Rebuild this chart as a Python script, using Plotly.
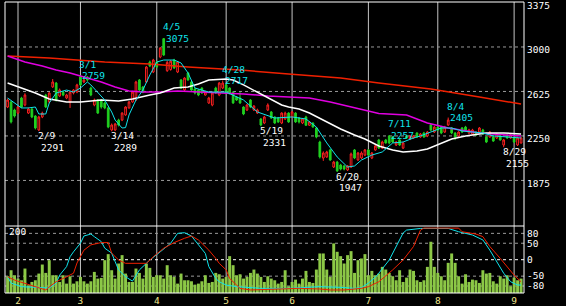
import pandas as pd
import plotly.graph_objects as go

# ---------------- data ----------------
holidays = ['2022-02-11', '2022-02-23', '2022-03-21', '2022-04-29', '2022-05-03',
            '2022-05-04', '2022-05-05', '2022-07-18', '2022-08-11']
dates = pd.bdate_range('2022-01-27', '2022-09-05', freq='C', holidays=holidays)

opens = [2494, 2536, 2469, 2443, 2570, 2511, 2443, 2477, 2418, 2300,
         2410, 2595, 2536, 2663, 2696, 2587, 2620, 2570, 2536, 2612,
         2620, 2747, 2705, 2747, 2654, 2511, 2553, 2553, 2528, 2486,
         2300, 2300, 2384, 2384, 2427, 2486, 2536, 2553, 2722, 2663,
         2705, 2873, 2789, 2873, 2915, 3070, 2800, 2810, 2890, 2789,
         2722, 2637, 2781, 2705, 2646, 2637, 2654, 2595, 2528, 2511,
         2654, 2595, 2654, 2680, 2654, 2620, 2578, 2570, 2494, 2469,
         2553, 2469, 2443, 2393, 2359, 2469, 2452, 2410, 2401, 2359,
         2393, 2443, 2410, 2443, 2401, 2359, 2410, 2340, 2359, 2317,
         2199, 2064, 2073, 2132, 1988, 2030, 2005, 1997, 1963, 1988,
         2132, 2047, 2064, 2089, 2132, 2064, 2132, 2216, 2148, 2216,
         2250, 2241, 2174, 2216, 2148, 2250, 2224, 2233, 2275, 2241,
         2275, 2250, 2342, 2283, 2325, 2325, 2283, 2342, 2317, 2275,
         2250, 2317, 2325, 2275, 2266, 2283, 2283, 2300, 2241, 2241,
         2241, 2233, 2250, 2174, 2258, 2233, 2233, 2174, 2191]
highs = [2565, 2545, 2480, 2505, 2580, 2610, 2490, 2485, 2425, 2420,
         2455, 2605, 2620, 2730, 2705, 2650, 2630, 2605, 2630, 2645,
         2690, 2759, 2735, 2755, 2665, 2565, 2560, 2560, 2540, 2495,
         2355, 2360, 2395, 2450, 2500, 2545, 2630, 2715, 2730, 2670,
         2840, 2885, 2900, 2880, 3000, 3075, 2885, 2890, 2900, 2880,
         2730, 2745, 2790, 2715, 2655, 2645, 2660, 2630, 2580, 2625,
         2665, 2705, 2717, 2690, 2660, 2625, 2585, 2620, 2500, 2520,
         2560, 2510, 2480, 2400, 2420, 2525, 2460, 2415, 2410, 2450,
         2455, 2450, 2460, 2450, 2410, 2400, 2420, 2375, 2365, 2325,
         2210, 2120, 2125, 2140, 2040, 2040, 2015, 2005, 2005, 2110,
         2140, 2115, 2120, 2140, 2140, 2115, 2175, 2225, 2210, 2225,
         2257, 2250, 2205, 2225, 2200, 2255, 2255, 2255, 2280, 2275,
         2285, 2290, 2350, 2335, 2335, 2335, 2335, 2405, 2325, 2280,
         2290, 2325, 2335, 2310, 2310, 2290, 2325, 2310, 2250, 2290,
         2250, 2275, 2260, 2225, 2265, 2265, 2240, 2240, 2240]
lows = [2485, 2355, 2405, 2435, 2485, 2500, 2435, 2400, 2305, 2291,
        2400, 2485, 2525, 2655, 2540, 2580, 2585, 2560, 2486, 2600,
        2610, 2670, 2695, 2710, 2585, 2500, 2435, 2480, 2475, 2315,
        2289, 2292, 2330, 2375, 2420, 2480, 2530, 2545, 2625, 2610,
        2695, 2830, 2780, 2820, 2905, 2925, 2790, 2800, 2815, 2780,
        2645, 2625, 2715, 2630, 2600, 2585, 2605, 2590, 2520, 2500,
        2605, 2585, 2645, 2600, 2600, 2520, 2545, 2520, 2425, 2460,
        2485, 2460, 2435, 2331, 2350, 2460, 2395, 2350, 2360, 2350,
        2385, 2360, 2400, 2360, 2355, 2350, 2335, 2335, 2320, 2230,
        2060, 2040, 2065, 2040, 1980, 1947, 1960, 1960, 1955, 1980,
        2055, 2040, 2055, 2080, 2080, 2055, 2125, 2140, 2140, 2185,
        2180, 2190, 2165, 2165, 2140, 2225, 2215, 2225, 2235, 2235,
        2235, 2240, 2290, 2275, 2290, 2265, 2275, 2335, 2265, 2215,
        2240, 2275, 2290, 2265, 2260, 2250, 2275, 2260, 2190, 2235,
        2200, 2225, 2210, 2155, 2225, 2225, 2190, 2165, 2185]
closes = [2553, 2368, 2418, 2494, 2494, 2595, 2477, 2410, 2317, 2410,
          2443, 2494, 2612, 2705, 2553, 2637, 2595, 2595, 2620, 2637,
          2680, 2680, 2722, 2722, 2595, 2553, 2443, 2494, 2486, 2325,
          2342, 2351, 2342, 2443, 2494, 2536, 2620, 2705, 2637, 2620,
          2831, 2840, 2890, 2831, 2991, 2932, 2870, 2880, 2823, 2873,
          2654, 2738, 2722, 2637, 2612, 2595, 2612, 2620, 2570, 2612,
          2612, 2696, 2696, 2612, 2612, 2528, 2553, 2528, 2435, 2511,
          2494, 2502, 2469, 2342, 2410, 2511, 2401, 2359, 2368, 2443,
          2443, 2368, 2452, 2368, 2368, 2393, 2340, 2368, 2325, 2241,
          2073, 2106, 2115, 2047, 2030, 1955, 1971, 1971, 1997, 2098,
          2064, 2106, 2106, 2132, 2089, 2106, 2165, 2148, 2199, 2191,
          2191, 2199, 2199, 2174, 2191, 2233, 2250, 2250, 2241, 2266,
          2241, 2283, 2300, 2325, 2300, 2275, 2325, 2384, 2275, 2241,
          2283, 2283, 2300, 2300, 2300, 2258, 2317, 2266, 2199, 2283,
          2207, 2266, 2216, 2216, 2233, 2258, 2199, 2233, 2233]
volume = [50, 68, 53, 43, 38, 73, 23, 33, 38, 58, 85, 60, 98, 53, 53, 33, 53, 28, 50, 28,
          35, 48, 35, 28, 35, 63, 43, 45, 98, 116, 68, 43, 88, 113, 58, 33, 33, 73, 60, 43,
          88, 75, 48, 53, 53, 43, 83, 53, 48, 28, 58, 38, 38,
          35, 25, 28, 35, 53, 30, 33, 60, 56, 43, 48, 110, 83, 53, 56, 43, 48, 60, 70, 58,
          48, 33, 50, 43, 38, 28, 33, 68, 20, 33, 40, 28, 43, 66, 33, 30, 70, 118, 118, 70,
          48, 148, 123, 110, 88, 113, 125, 60, 98, 103, 116, 53, 66, 53, 58,
          78, 70, 60, 50, 38, 68, 33, 46, 70, 66, 38, 33, 38, 78, 153, 78, 60, 50, 38, 90,
          118, 90, 50, 28, 56, 33, 40, 38, 30, 68, 58, 60, 35, 28, 50, 43, 53, 20, 46, 38, 43]

# moving averages (day number, price)
ma_short_day = [0, 4, 6, 8, 9, 11, 12, 14, 17, 19, 21, 23, 24, 27, 28, 30, 31, 33, 34, 35,
                37, 39, 41, 43, 45, 48, 50, 51, 52, 54, 58, 63, 68, 72, 77, 82, 86, 89, 92,
                95, 98, 100, 102, 105, 108, 111, 114, 117, 119, 122, 125, 128, 131, 134,
                137, 140, 144, 148]
ma_short_val = [2570, 2486, 2486, 2494, 2435, 2435, 2528, 2612, 2637, 2620, 2654, 2705, 2680,
                2590, 2553, 2452, 2384, 2317, 2320, 2427, 2553, 2637, 2764, 2873, 2890, 2890,
                2865, 2823, 2781, 2654, 2620, 2620, 2553, 2452, 2401, 2410, 2393, 2325, 2191,
                2073, 1988, 1997, 2047, 2089, 2115, 2191, 2199, 2233, 2250, 2283, 2317, 2317,
                2292, 2283, 2275, 2250, 2241, 2233]
ma_mid_day = [0, 4, 8, 12, 17, 21, 27, 32, 36, 41, 44, 48, 52, 55, 58, 63, 65, 68, 72, 76,
              79, 81, 84, 87, 91, 96, 100, 103, 107, 111, 114, 118, 121, 124, 128, 132,
              138, 143, 148]
ma_mid_val = [2696, 2654, 2612, 2562, 2536, 2536, 2553, 2545, 2561, 2595, 2612, 2654, 2663,
              2688, 2722, 2730, 2722, 2680, 2620, 2553, 2511, 2494, 2477, 2443, 2384, 2309,
              2258, 2224, 2165, 2132, 2115, 2123, 2140, 2174, 2224, 2250, 2275, 2275, 2266]
ma_long_day = [0, 5, 10, 14, 18, 22, 27, 31, 35, 39, 44, 49, 58, 68, 75, 87, 93, 100, 107,
               115, 121, 127, 136, 148]
ma_long_val = [2924, 2873, 2840, 2806, 2781, 2747, 2705, 2663, 2629, 2620, 2620, 2629, 2620,
               2604, 2587, 2570, 2536, 2485, 2440, 2427, 2359, 2317, 2275, 2250]
ma_trend_day = [0, 12, 28, 41, 52, 67, 81, 96, 107, 122, 136, 148]
ma_trend_val = [2924, 2907, 2873, 2856, 2831, 2806, 2772, 2738, 2696, 2646, 2578, 2519]

# oscillator (day number, value)
osc_fast_day = [0, 1, 4, 6, 9, 12, 14, 15, 17, 18, 19, 21, 22, 24, 25, 27, 28, 30, 31, 32,
                34, 36, 38, 41, 44, 47, 49, 51, 53, 55, 57, 58, 60, 61, 63, 66, 68, 73, 81,
                87, 90, 96, 99, 100, 102, 104, 106, 107, 110, 112, 114, 115, 119, 127, 130,
                134, 137, 139, 141, 143, 145, 147, 148]
osc_fast_val = [-52, -71, -82, -83, -86, -86, -71, -47, -21, 9, 24, 50, 72, 78, 70, 55, 35,
                20, -6, -31, -52, -65, -31, -1, 24, 50, 80, 82, 72, 45, 19, -21, -57, -67,
                -77, -82, -83, -87, -87, -85, -82, -84, -87, -87, -85, -71, -53, -41, -1, 40,
                81, 90, 95, 95, 85, 75, 60, 29, -6, -41, -67, -77, -77]
osc_slow_day = [0, 2, 5, 8, 11, 12, 14, 17, 19, 20, 22, 24, 27, 29, 30, 32, 34, 40, 42, 45,
                48, 51, 53, 55, 58, 60, 61, 63, 64, 66, 67, 70, 76, 84, 90, 93, 97, 102, 104,
                107, 111, 114, 117, 119, 120, 130, 131, 135, 137, 139, 142, 144, 146, 148]
osc_slow_val = [-52, -62, -72, -82, -92, -83, -67, -52, -41, -10, 29, 45, 52, 52, 20, -1,
                -11, -11, 9, 35, 52, 65, 72, 60, 29, 4, -11, -31, -57, -77, -87, -92, -90,
                -87, -89, -92, -92, -87, -82, -67, -31, -1, 40, 90, 96, 96, 85, 78, 70, 40, 4,
                -21, -47, -67]

high_labels = ['2022-03-01', '2022-04-05', '2022-04-28', '2022-07-11', '2022-08-04']
low_labels = ['2022-02-09', '2022-03-14', '2022-05-19', '2022-06-20', '2022-08-29']

price_ticks = [1875, 2250, 2625, 3000, 3375]
osc_ticks = [-80, -50, 0, 50, 80]
volume_max = 200

# ---------------- styling ----------------
FONT = 'DejaVu Sans Mono'
FS = 9.5
C_UP = '#ff2020'
C_DN = '#20d020'
C_CYAN = '#10e4ec'
C_WHITE = '#ffffff'
C_MAG = '#e000e0'
C_RED = '#f02000'
C_VOL = '#8cc846'
C_GRID = '#9a9a9a'
C_MONTH = '#c4c4c4'
C_XLAB = '#f0e68c'

n = len(dates)
idx = list(range(n))
month_idx = [i for i in range(1, n) if dates[i].month != dates[i - 1].month]
month_txt = [str(dates[i].month) for i in month_idx]
day_of = {d.strftime('%Y-%m-%d'): i for i, d in enumerate(dates)}

split = 67 / 291
xr = [-0.75, n - 0.15]

fig = go.Figure()
fig.add_trace(go.Candlestick(
    x=idx, open=opens, high=highs, low=lows, close=closes,
    increasing=dict(line=dict(color=C_UP, width=1), fillcolor='#000000'),
    decreasing=dict(line=dict(color=C_DN, width=1), fillcolor=C_DN),
    whiskerwidth=0, xaxis='x', yaxis='y', hoverinfo='skip', showlegend=False))
for dd, vv, col, w in [(ma_trend_day, ma_trend_val, C_RED, 1.5),
                       (ma_long_day, ma_long_val, C_MAG, 1.5),
                       (ma_mid_day, ma_mid_val, C_WHITE, 1.5),
                       (ma_short_day, ma_short_val, C_CYAN, 1)]:
    fig.add_trace(go.Scatter(x=dd, y=vv, mode='lines', line=dict(color=col, width=w),
                             xaxis='x', yaxis='y', hoverinfo='skip', showlegend=False))

fig.add_trace(go.Bar(x=idx, y=volume, marker=dict(color=C_VOL, line=dict(width=0)),
                     xaxis='x2', yaxis='y2', hoverinfo='skip', showlegend=False))
fig.add_trace(go.Scatter(x=osc_fast_day, y=osc_fast_val, mode='lines',
                         line=dict(color=C_CYAN, width=1), xaxis='x2', yaxis='y3',
                         hoverinfo='skip', showlegend=False))
fig.add_trace(go.Scatter(x=osc_slow_day, y=osc_slow_val, mode='lines',
                         line=dict(color=C_RED, width=1), xaxis='x2', yaxis='y3',
                         hoverinfo='skip', showlegend=False))

shapes = []
for m in month_idx:
    shapes.append(dict(type='line', xref='x', yref='paper', x0=m, x1=m, y0=0, y1=1,
                       line=dict(color=C_MONTH, width=1), layer='below'))
for v in price_ticks[:-1]:
    shapes.append(dict(type='line', xref='paper', yref='y', x0=0, x1=1, y0=v, y1=v,
                       line=dict(color=C_GRID, width=1, dash='3px,3px'), layer='below'))
for v in osc_ticks:
    shapes.append(dict(type='line', xref='paper', yref='y3', x0=0, x1=1, y0=v, y1=v,
                       line=dict(color=C_WHITE if v == 0 else C_GRID, width=1,
                                 dash='3px,3px'), layer='below'))
for (x0, y0, x1, y1) in [(0, 1, 1, 1), (0, split, 1, split), (0, 0, 1, 0),
                         (0, 0, 0, 1), (1, 0, 1, 1)]:
    shapes.append(dict(type='line', xref='paper', yref='paper', x0=x0, x1=x1, y0=y0, y1=y1,
                       line=dict(color=C_WHITE, width=1), layer='above'))

ann = []
def add_text(i, price, txt, col, anchor, xs, ys):
    ann.append(dict(x=i, y=price, xref='x', yref='y', text=txt, showarrow=False,
                    xanchor='left', yanchor=anchor, xshift=xs, yshift=ys,
                    font=dict(family=FONT, size=FS, color=col), borderpad=0, borderwidth=0))

for s in high_labels:
    i = day_of[s]
    d = dates[i]
    add_text(i, highs[i], f"{d.month}/{d.day}", C_CYAN, 'bottom', -1, 6)
    add_text(i, highs[i], f"{highs[i]}", C_CYAN, 'bottom', 2, -5.5)
for s in low_labels:
    i = day_of[s]
    d = dates[i]
    add_text(i, lows[i], f"{d.month}/{d.day}", C_WHITE, 'top', -1, 1)
    add_text(i, lows[i], f"{lows[i]}", C_WHITE, 'top', 2, -10.5)

ann.append(dict(x=0, y=volume_max, xref='x domain', yref='y2', text=str(volume_max),
                showarrow=False, xanchor='left', yanchor='top', xshift=4, yshift=0,
                font=dict(family=FONT, size=FS, color=C_WHITE), borderpad=0, borderwidth=0))

ax_common = dict(showgrid=False, zeroline=False, showline=False, ticks='', automargin=False)
fig.update_layout(
    width=566, height=306,
    margin=dict(l=5, r=42, t=2, b=13, pad=0),
    paper_bgcolor='#000000', plot_bgcolor='#000000',
    showlegend=False, hovermode=False, bargap=0.15,
    font=dict(family=FONT, size=FS, color=C_WHITE),
    xaxis=dict(domain=[0, 1], anchor='y', range=xr, showticklabels=False,
               rangeslider=dict(visible=False), **ax_common),
    yaxis=dict(domain=[split, 1], anchor='x', side='right', range=[1491, 3379],
               tickvals=price_ticks, ticktext=[str(v) for v in price_ticks],
               ticklabelshift=3, ticklabelstandoff=2, ticklabeloverflow='allow',
               tickfont=dict(family=FONT, size=FS, color=C_WHITE), **ax_common),
    xaxis2=dict(domain=[0, 1], anchor='y2', range=xr, tickvals=month_idx, ticktext=month_txt,
                tickfont=dict(family=FONT, size=FS, color=C_XLAB), **ax_common),
    yaxis2=dict(domain=[0, split], anchor='x2', range=[0, volume_max],
                showticklabels=False, **ax_common),
    yaxis3=dict(overlaying='y2', anchor='x2', side='right', range=[-101.2, 102.4],
                tickvals=osc_ticks, ticktext=[str(v) for v in osc_ticks],
                ticklabelstandoff=2, ticklabeloverflow='allow',
                tickfont=dict(family=FONT, size=FS, color=C_WHITE), **ax_common),
    shapes=shapes, annotations=ann,
)
fig.write_html("out.html")
